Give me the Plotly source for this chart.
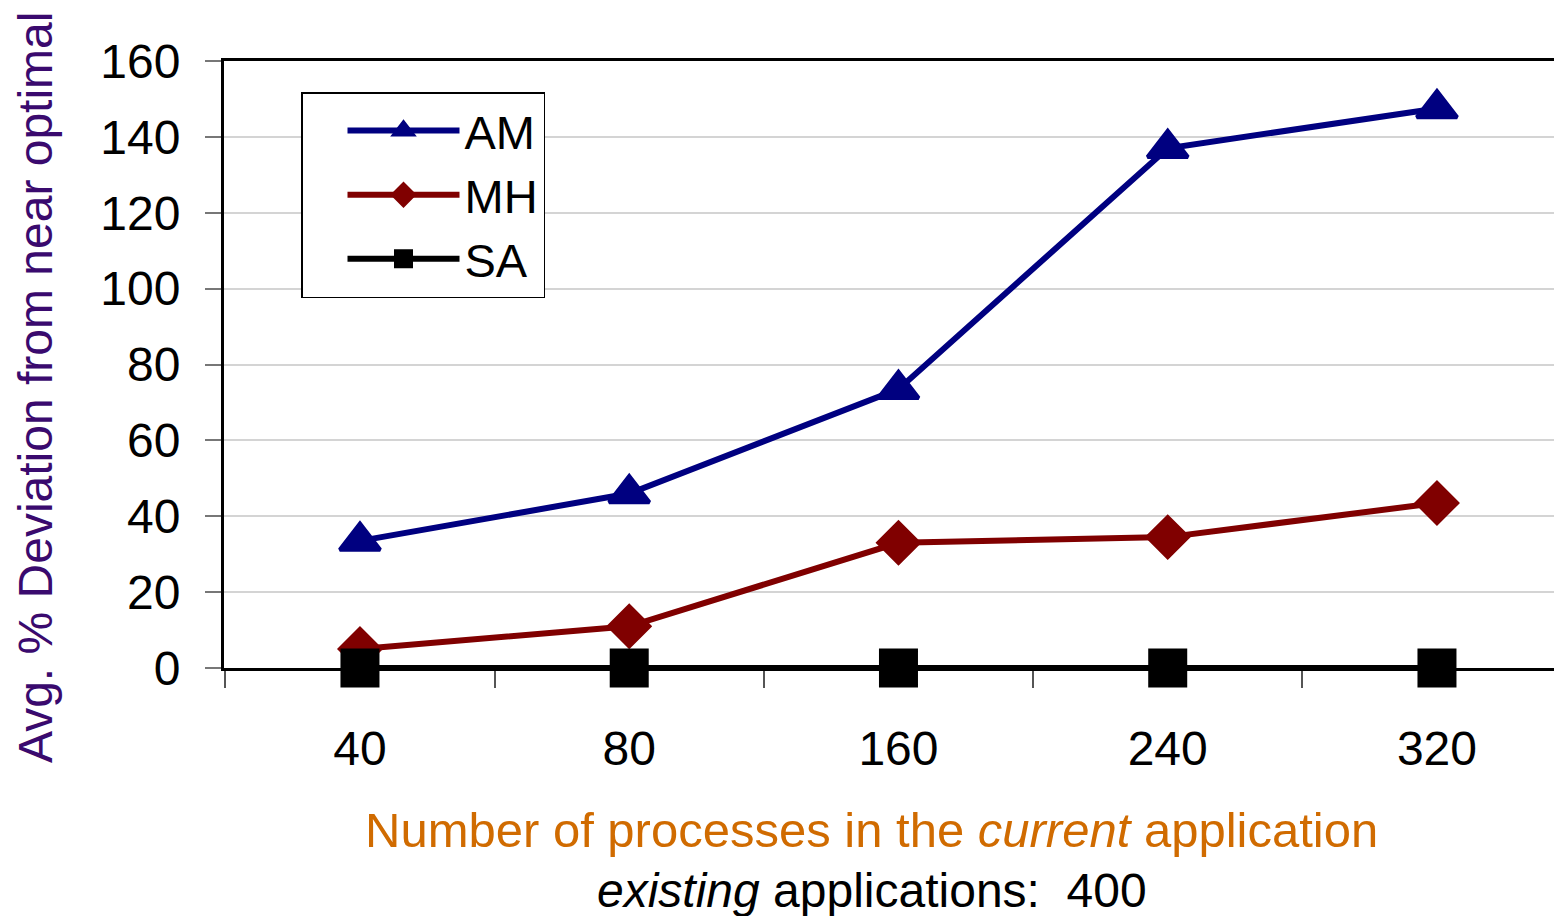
import plotly.graph_objects as go

categories = ["40", "80", "160", "240", "320"]
am_values = [33.5, 46, 73.5, 137, 147.5]
mh_values = [5, 11, 33, 34.5, 43.5]
sa_values = [0, 0, 0, 0, 0]
y_ticks = [0, 20, 40, 60, 80, 100, 120, 140, 160]

FONT = "Liberation Sans"
OFF = 8  # page body margin offset
W, H = 1562 - OFF, 916 - OFF
L, T, B = 224 - OFF, 61 - OFF, 916 - 668
PW = W - L
PH = H - T - B


def px_x(x):
    return (x - OFF - L) / PW


def px_y(y):
    return 1 - (y - OFF - T) / PH


fig = go.Figure()
fig.add_trace(go.Scatter(
    x=categories, y=am_values, name="AM", mode="lines+markers",
    line=dict(color="#000080", width=6),
    marker=dict(symbol="triangle-up", size=35, color="#000080",
                line=dict(color="#000080", width=4)),
    cliponaxis=False))
fig.add_trace(go.Scatter(
    x=categories, y=mh_values, name="MH", mode="lines+markers",
    line=dict(color="#800000", width=6),
    marker=dict(symbol="diamond", size=31, color="#800000",
                line=dict(color="#800000", width=4)),
    cliponaxis=False))
fig.add_trace(go.Scatter(
    x=categories, y=sa_values, name="SA", mode="lines+markers",
    line=dict(color="#000000", width=6),
    marker=dict(symbol="square", size=36, color="#000000",
                line=dict(color="#000000", width=3)),
    cliponaxis=False))

fig.update_layout(
    width=W, height=H,
    margin=dict(l=L, r=0, t=T, b=B),
    paper_bgcolor="white", plot_bgcolor="white",
    font=dict(family=FONT, color="black", size=46),
    showlegend=True,
    legend=dict(
        x=px_x(301), y=px_y(92),
        xanchor="left", yanchor="top",
        bgcolor="white", bordercolor="black", borderwidth=1.5,
        font=dict(family=FONT, size=47, color="black"),
        itemwidth=112, tracegroupgap=0, indentation=40,
        entrywidth=220, entrywidthmode="pixels",
        itemsizing="trace"),
    xaxis=dict(
        type="category", categoryorder="array", categoryarray=categories,
        range=[-0.505, -0.505 + PW / 269.25],
        showgrid=False, zeroline=False,
        showline=True, linecolor="black", linewidth=3, mirror=True,
        ticks="outside", tickson="boundaries", ticklen=17, tickwidth=1.5,
        tickcolor="#555555",
        tickfont=dict(family=FONT, size=48, color="black"),
        ticklabelstandoff=36),
    yaxis=dict(
        range=[0, 160], tickvals=y_ticks,
        showgrid=True, gridcolor="#d4d4d4", gridwidth=1.5,
        zeroline=False,
        showline=True, linecolor="black", linewidth=3,
        ticks="outside", ticklen=16, tickwidth=2, tickcolor="#777777",
        tickfont=dict(family=FONT, size=48, color="black"),
        ticklabelstandoff=15),
    annotations=[
        dict(text="Avg. % Deviation from near optimal",
             xref="paper", yref="paper", textangle=-90,
             x=px_x(35), y=px_y(388),
             xanchor="center", yanchor="middle", showarrow=False,
             font=dict(family=FONT, size=48, color="#3a0a6e")),
        dict(text="Number of processes in the <i>current</i> application",
             xref="paper", yref="paper",
             x=px_x(871), y=px_y(830),
             xanchor="center", yanchor="middle", showarrow=False,
             font=dict(family=FONT, size=49, color="#d06b00")),
        dict(text="<i>existing</i> applications:  400",
             xref="paper", yref="paper",
             x=px_x(872), y=px_y(890),
             xanchor="center", yanchor="middle", showarrow=False,
             font=dict(family=FONT, size=48, color="black")),
    ],
)

fig.write_html("out.html")
